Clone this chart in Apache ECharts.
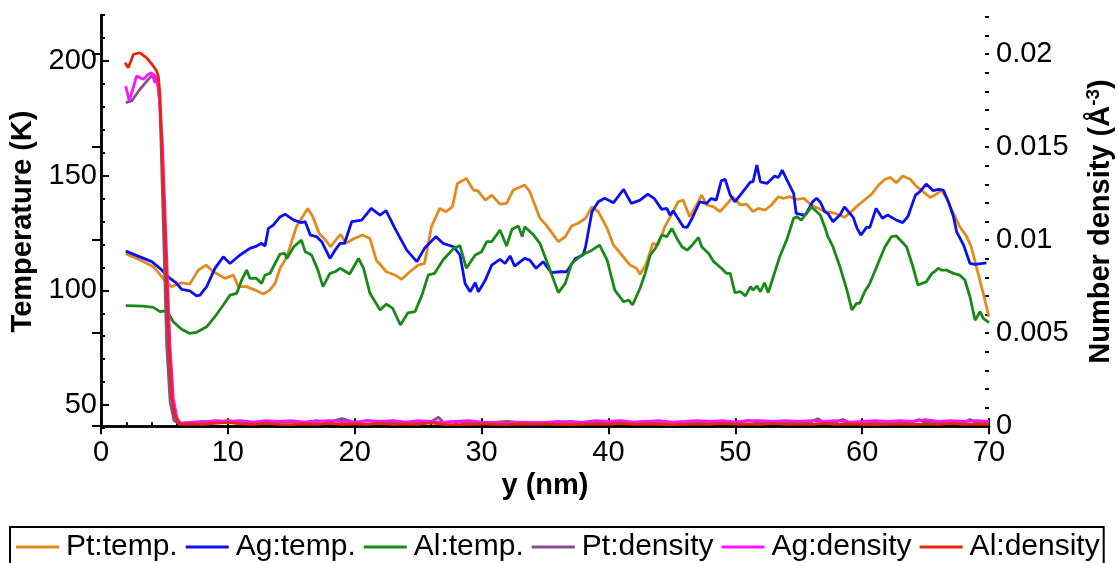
<!DOCTYPE html>
<html>
<head>
<meta charset="utf-8">
<script src="https://cdn.jsdelivr.net/npm/echarts@6/dist/echarts.min.js"></script>
<style>
  html, body { margin: 0; padding: 0; background: #fff; }
  #chart { width: 1118px; height: 563px; }
</style>
</head>
<body>
<div id="chart"></div>
<script>
// [y (nm), T (K)]
const ptTemp = [[1.95,116],[3.07,113.2],[4.13,110.3],[4.9,105.2],[5.57,101.6],[6.36,103.3],[7.0,102.7],[7.67,108.8],[8.28,111],[8.86,108.1],[9.78,105.2],[10.43,106.7],[10.83,101.6],[11.48,101.6],[12.14,100.1],[12.8,98.4],[13.3,100.1],[13.72,103],[14.11,109.5],[14.65,114.6],[15.4,127.7],[16.3,135.7],[16.7,132.1],[17.2,124.8],[17.7,121.9],[18.1,119],[18.6,122.6],[18.9,124.4],[19.3,120.5],[19.96,122.6],[20.6,124.1],[21.2,122.6],[21.7,113.2],[22.5,108.1],[23.2,106.6],[23.7,104.8],[24.35,108.1],[25.0,111],[25.5,111.7],[26.05,127.7],[26.7,135.7],[27.2,134.3],[27.7,136.4],[28.1,146.6],[28.8,148.8],[29.35,143.7],[29.7,143.4],[30.3,139.3],[30.8,141.5],[31.45,137.6],[31.97,137.9],[32.5,143.7],[33.0,144.9],[33.4,145.9],[33.8,143],[34.6,131.4],[35.1,128.4],[36.05,121.2],[36.6,123.4],[37.1,128],[37.6,129.2],[38.2,131.4],[38.7,136.4],[39.2,134.3],[39.9,127],[40.4,119.7],[41.05,115.4],[41.7,111],[42.2,109.6],[42.5,107],[43.0,111.7],[43.5,120.5],[43.9,119.7],[44.45,127.7],[44.95,132.8],[45.5,138.6],[45.9,139.3],[46.4,132.1],[46.95,137.2],[47.35,141.5],[47.75,137.2],[48.3,136.4],[48.8,134.3],[49.5,138.6],[49.8,140.8],[50.4,137.2],[50.9,137.6],[51.4,134.3],[51.8,135.7],[52.35,135],[52.85,137.2],[53.4,140.8],[53.8,140.1],[54.3,140.8],[54.8,139.6],[55.4,140.1],[56.0,137.2],[56.7,135.3],[57.05,134.3],[57.7,133.8],[58.25,132.8],[58.6,131.8],[59.15,134.3],[59.7,137.2],[60.35,140.1],[60.75,141.9],[61.3,145.9],[61.8,148.4],[62.2,149.2],[62.7,146.9],[63.2,149.8],[63.8,148.4],[64.3,145.2],[64.95,142.3],[65.35,140.5],[65.75,141.5],[66.25,143.7],[66.65,140.1],[67.2,133.5],[67.7,127.7],[68.25,123.4],[68.6,119],[69.0,110.3],[69.55,98.7],[70.0,88.5]];

const agTemp = [[1.95,117.1],[3.07,114.6],[4.0,112.5],[4.65,109.6],[5.3,105.9],[5.96,103],[6.36,100.4],[7.0,99.8],[7.54,97.6],[7.8,97.9],[8.33,101.6],[8.98,109.6],[9.64,114.6],[10.17,111.7],[10.96,115.4],[11.74,118.3],[12.27,119.3],[12.66,120.5],[12.93,119.3],[13.2,127],[13.58,128.4],[14.11,132],[14.5,133.2],[15.2,130.6],[15.8,129.5],[16.1,129.9],[16.5,124.1],[17.0,123.4],[17.4,121.2],[18.05,113.9],[18.45,117.5],[18.85,120.5],[19.2,120.5],[19.76,129.9],[20.55,130.6],[21.3,135.7],[22.0,132.8],[22.47,134.7],[23.17,127],[24.1,117.5],[24.9,112.5],[25.5,118.3],[26.4,123.4],[26.96,120.5],[27.8,119],[28.3,115.4],[28.7,103],[29.1,99.4],[29.5,103.3],[29.75,99.4],[30.3,104.5],[30.8,111],[31.45,113.5],[31.85,111.7],[32.25,115],[32.6,110.6],[33.4,113.9],[33.8,113.2],[34.3,109.6],[34.85,112.5],[35.5,107.7],[36.2,108.1],[36.7,108.1],[37.4,113.9],[38.0,115.4],[38.2,119],[38.7,134.3],[39.2,138.6],[39.7,140.1],[40.4,138.2],[41.2,144],[41.8,137.9],[42.5,139.3],[43.1,141.9],[43.6,140.1],[44.2,135.3],[44.6,135.7],[44.85,132.8],[45.1,134.7],[45.9,127.7],[46.2,127.4],[46.6,131.4],[47.2,138.6],[47.75,137.9],[48.1,140.1],[48.5,139.3],[48.9,147.8],[49.2,148.4],[49.6,141.5],[49.97,138.6],[50.5,142.3],[51.2,147.3],[51.4,147.3],[51.7,154.6],[51.98,147.3],[52.5,146.6],[53.1,149.8],[53.4,149.2],[53.7,152.4],[54.05,148.4],[54.6,142.3],[54.8,133.5],[55.4,132.8],[55.6,133.5],[56.1,138.6],[56.4,140.1],[56.7,138.5],[57.05,134.3],[57.3,133.5],[57.7,129.9],[58.25,132.8],[58.6,136.4],[59.3,131.8],[59.6,127],[59.9,124.1],[60.35,127.4],[60.6,127.4],[61.1,135.7],[61.6,131.4],[62.0,132.8],[62.7,130.6],[63.2,129.5],[63.6,132.1],[64.2,141.5],[64.55,143],[65.05,146.3],[65.6,143.4],[66.0,144],[66.4,143.7],[66.8,138.6],[67.2,132.1],[67.45,125.5],[68.0,119.7],[68.5,111.7],[68.9,111.3],[69.8,112]];

const alTemp = [[1.95,93.3],[3.34,93.1],[4.13,92.6],[4.65,90.7],[5.18,91.1],[5.7,86.3],[6.36,83],[7.0,81.2],[7.54,81.7],[8.33,84.1],[8.98,88.5],[9.64,93.6],[10.17,97.9],[10.7,98.7],[11.09,104.5],[11.48,108.8],[11.74,105.2],[12.27,105.2],[12.66,103],[12.93,106.7],[13.32,107.4],[13.72,111.7],[14.11,115.8],[14.5,116.1],[14.65,113.9],[15.2,119],[15.8,121.9],[16.1,116.8],[16.6,115.4],[17.1,108.8],[17.5,101.6],[18.05,107.4],[18.45,108.1],[18.85,109.6],[19.6,107.1],[20.3,113.9],[20.7,109.6],[21.2,98.7],[22.0,91.4],[22.5,94],[23.0,92.1],[23.6,84.9],[24.2,90.2],[24.75,90.7],[25.3,97.9],[25.8,106.7],[26.3,107.4],[26.96,113.2],[27.8,118.3],[28.3,119.5],[28.8,109.6],[29.5,115.4],[30.0,116.8],[30.4,121.2],[30.8,121.2],[31.45,126.3],[31.97,119.3],[32.4,126.6],[32.9,128],[33.2,123.4],[33.4,127.7],[34.1,124.1],[34.6,120.5],[35.3,110.3],[36.05,99],[36.6,103],[37.1,111.7],[37.9,115.4],[38.7,117.5],[39.3,119.7],[39.9,113.2],[40.5,100.1],[41.2,95],[41.6,95.8],[41.9,93.6],[42.5,101],[42.9,107.4],[43.3,115.4],[43.7,118.3],[44.2,124.1],[44.6,123.4],[45.0,127],[45.4,122.6],[45.8,119],[46.2,117.5],[46.6,119.7],[47.1,123.1],[47.35,119],[47.9,116.1],[48.3,112.5],[48.9,109.6],[49.3,107.4],[49.6,107.4],[49.97,99],[50.4,99.4],[50.8,97.6],[51.2,101.6],[51.4,100.1],[51.7,101.9],[51.98,99.4],[52.3,103.3],[52.6,99],[53.0,105.9],[53.5,114.6],[54.05,121.9],[54.6,131.4],[54.85,132.1],[55.2,130.6],[56.0,136.4],[56.7,132.8],[57.05,127.7],[57.3,123.4],[57.7,119],[58.25,110.3],[58.8,100.1],[59.2,91.4],[59.55,94.3],[59.8,94.3],[60.2,99.4],[60.6,103],[61.25,111.7],[61.8,119],[62.3,123.4],[62.7,123.7],[63.5,119],[64.0,110.3],[64.4,102.3],[65.05,103.7],[65.5,107.4],[65.7,108.1],[66.0,109.6],[66.25,108.8],[66.65,108.8],[67.2,107.4],[67.7,106.6],[68.1,104.5],[68.5,97.2],[68.9,87],[69.3,90.7],[69.55,87.8],[70.0,85.9]];

// [y (nm), number density (Å^-3)]
const ptDens = [[1.95,0.01739],[2.42,0.01748],[3.07,0.01811],[3.73,0.01864],[4.12,0.01891],[4.39,0.01873],[4.55,0.0181],[4.65,0.0170],[4.73,0.0153],[5.18,0.0043],[5.45,0.0013],[5.75,0.0003],[6.1,0.00015],[7,0.0002],[8,0.00025],[9,0.0002],[10,0.0003],[11,0.0002],[12,0.0002],[13,0.00015],[14,0.0002],[15,0.00025],[16,0.0002],[17,0.0003],[18,0.00022],[19,0.0004],[20,0.0002],[21,0.0003],[22,0.0002],[23,0.00025],[24,0.0002],[25,0.0002],[26,0.00022],[26.6,0.00048],[27,0.0002],[28,0.00025],[29,0.0002],[30,0.00015],[31,0.0002],[32,0.00025],[33,0.0002],[34,0.00015],[35,0.0002],[36,0.0002],[37,0.00025],[38,0.0002],[39,0.0002],[40,0.00015],[41,0.0002],[42,0.0002],[43,0.00025],[44,0.0002],[45,0.0002],[46,0.00015],[47,0.0002],[48,0.0002],[49,0.00025],[50,0.0002],[51,0.0003],[52,0.0002],[53,0.00025],[54,0.0002],[55,0.0002],[56,0.00025],[56.5,0.0004],[57,0.0002],[58,0.00025],[58.5,0.00035],[59,0.0002],[60,0.0002],[61,0.00015],[62,0.0002],[63,0.0002],[64,0.00025],[64.5,0.00035],[65,0.0002],[66,0.00025],[67,0.0002],[68,0.0002],[68.5,0.00035],[69,0.0002],[70,0.0002]];

const agDens = [[1.95,0.01828],[2.23,0.01748],[2.81,0.01882],[3.34,0.01864],[3.73,0.01891],[4.0,0.019],[4.26,0.01846],[4.4,0.0188],[4.6,0.0176],[4.85,0.0151],[5.44,0.0043],[5.7,0.0015],[6.0,0.0004],[6.3,0.00015],[7,0.0002],[8,0.00022],[9,0.0003],[10,0.00025],[11,0.0003],[12,0.00022],[13,0.0003],[14,0.00025],[15,0.0003],[16,0.00022],[17,0.00025],[18,0.0003],[19,0.00025],[20,0.0002],[21,0.0003],[22,0.00025],[23,0.0003],[24,0.00022],[25,0.0003],[26,0.00025],[27,0.0002],[28,0.00025],[29,0.0003],[30,0.00022],[31,0.0002],[32,0.00015],[33,0.00022],[34,0.0002],[35,0.0002],[36,0.00025],[37,0.0002],[38,0.00022],[39,0.0003],[40,0.00025],[41,0.0003],[42,0.00022],[43,0.00025],[44,0.0003],[45,0.00022],[46,0.00025],[47,0.0003],[48,0.00025],[49,0.0003],[50,0.00022],[51,0.0003],[52,0.0003],[53,0.00025],[54,0.0003],[55,0.00025],[56,0.0003],[57,0.00025],[58,0.0003],[59,0.00022],[60,0.00025],[61,0.0003],[62,0.00025],[63,0.0003],[64,0.00025],[65,0.00035],[66,0.00025],[67,0.0003],[68,0.00025],[69,0.0003],[70,0.00025]];

const alDens = [[1.89,0.01953],[2.15,0.01927],[2.55,0.01998],[3.07,0.02007],[3.6,0.0198],[4.12,0.01936],[4.39,0.01909],[4.52,0.0188],[4.65,0.0178],[4.78,0.0153],[5.07,0.0098],[5.36,0.0043],[5.6,0.0015],[5.85,0.0005],[6.2,0.0001],[7,0.00012],[8,0.0001],[9,0.00015],[10,0.0002],[11,0.00012],[12,0.0001],[13,0.00015],[14,0.0001],[15,0.00008],[16,0.00012],[17,0.0001],[18,0.00015],[19,0.0001],[20,0.00012],[21,0.0001],[22,0.00015],[23,0.0001],[24,0.00012],[25,0.0001],[26,0.00018],[27,0.0001],[28,0.00008],[29,0.0001],[30,0.00012],[31,0.0001],[32,0.00008],[33,0.00012],[34,0.0001],[35,0.00012],[36,0.0001],[37,0.00008],[38,0.0001],[39,0.00012],[40,0.0001],[41,0.00015],[42,0.0001],[43,0.00012],[44,0.0001],[45,0.00008],[46,0.0001],[47,0.00012],[48,0.0001],[49,0.00015],[50,0.0001],[51,0.00012],[52,0.0001],[53,0.00015],[54,0.0001],[55,0.00012],[56,0.0001],[57,0.00015],[58,0.0001],[59,0.00012],[60,0.0001],[61,0.00008],[62,0.0001],[63,0.00012],[64,0.0001],[65,0.00012],[66,0.0001],[67,0.00015],[68,0.0001],[69,0.00012],[70,0.0001]];

const names = ['Pt:temp.', 'Ag:temp.', 'Al:temp.', 'Pt:density', 'Ag:density', 'Al:density'];
const colors = ['#E3891E', '#0A10F2', '#178A17', '#86508C', '#FF14FF', '#E8260C'];
const tempTicks = [50, 100, 150, 200];
const densTicks = [0, 0.005, 0.01, 0.015, 0.02];
const densMinorTicks = [0, 0.001, 0.002, 0.003, 0.004, 0.005, 0.006, 0.007, 0.008, 0.009, 0.01, 0.011, 0.012, 0.013, 0.014, 0.015, 0.016, 0.017, 0.018, 0.019, 0.02, 0.021, 0.022];

const font = 'Liberation Sans, Arial, sans-serif';
const axisLine = { show: true, lineStyle: { color: '#000', width: 2.5 } };

const chart = echarts.init(document.getElementById('chart'));

const seriesData = [ptTemp, agTemp, alTemp, ptDens, agDens, alDens];
const series = seriesData.map((d, i) => ({
  name: names[i],
  type: 'line',
  data: d,
  yAxisIndex: i < 3 ? 0 : 1,
  symbol: 'none',
  lineStyle: { color: colors[i], width: 2.8 },
  itemStyle: { color: colors[i] },
  animation: false
}));

chart.setOption({
  backgroundColor: '#fff',
  textStyle: { fontFamily: font },
  grid: { left: 101, right: 129, top: 15, bottom: 135, outerBoundsMode: 'none' },
  legend: {
    data: names,
    left: 10,
    top: 527,
    width: 1200,
    icon: 'rect',
    itemWidth: 43,
    itemHeight: 3,
    itemGap: 8,
    borderColor: '#000',
    borderWidth: 2,
    padding: [5, 4, 10, 6],
    textStyle: { fontSize: 30, color: '#000', fontFamily: font, padding: [0, 0, 0, 2] }
  },
  xAxis: [
    {
      type: 'value',
      min: 0, max: 70, interval: 10,
      name: 'y (nm)',
      nameLocation: 'middle',
      nameGap: 40,
      nameTextStyle: { fontSize: 29, fontWeight: 'bold', color: '#000' },
      axisLine: axisLine,
      axisTick: { inside: true, length: 8, lineStyle: { color: '#000', width: 2 } },
      minorTick: { show: true, splitNumber: 5, length: 4, lineStyle: { color: '#000', width: 2 } },
      axisLabel: { fontSize: 29, color: '#000', margin: 10 },
      splitLine: { show: false }
    },
    {
      type: 'value',
      position: 'top',
      min: 0, max: 70, interval: 10,
      axisLine: axisLine,
      axisTick: { inside: true, length: 8, lineStyle: { color: '#000', width: 2 } },
      axisLabel: { show: false },
      splitLine: { show: false }
    }
  ],
  yAxis: [
    {
      type: 'value',
      position: 'left',
      min: 40, max: 220,
      name: 'Temperature (K)',
      nameLocation: 'middle',
      nameGap: 64,
      nameTextStyle: { fontSize: 29, fontWeight: 'bold', color: '#000' },
      axisLine: axisLine,
      axisTick: { inside: true, length: 8, customValues: tempTicks, lineStyle: { color: '#000', width: 2 } },
      axisLabel: { fontSize: 29, color: '#000', margin: 4, customValues: tempTicks },
      splitLine: { show: false }
    },
    {
      type: 'value',
      position: 'right',
      min: -0.0001, max: 0.0221,
      name: '{t|Number density (Å}{s|-3}{t|)}',
      nameLocation: 'middle',
      nameGap: 95,
      nameTextStyle: {
        color: '#000',
        rich: {
          t: { fontSize: 29, fontWeight: 'bold', color: '#000', fontFamily: font, lineHeight: 34 },
          s: { fontSize: 19, fontWeight: 'bold', color: '#000', fontFamily: font, verticalAlign: 'top', lineHeight: 34 }
        }
      },
      axisLine: axisLine,
      axisTick: { inside: true, length: 9, customValues: densTicks, lineStyle: { color: '#000', width: 2 } },
      axisLabel: { fontSize: 29, color: '#000', margin: 7, customValues: densTicks },
      splitLine: { show: false }
    },
    {
      type: 'value',
      position: 'left',
      min: 40, max: 220, interval: 10,
      axisLine: { show: false },
      axisTick: { inside: true, length: 4, lineStyle: { color: '#000', width: 2 } },
      axisLabel: { show: false },
      splitLine: { show: false }
    },
    {
      type: 'value',
      position: 'right',
      min: -0.0001, max: 0.0221,
      axisLine: { show: false },
      axisTick: { inside: true, length: 4, customValues: densMinorTicks, lineStyle: { color: '#000', width: 2 } },
      axisLabel: { show: false },
      splitLine: { show: false }
    }
  ],
  series: series
});
</script>
</body>
</html>
